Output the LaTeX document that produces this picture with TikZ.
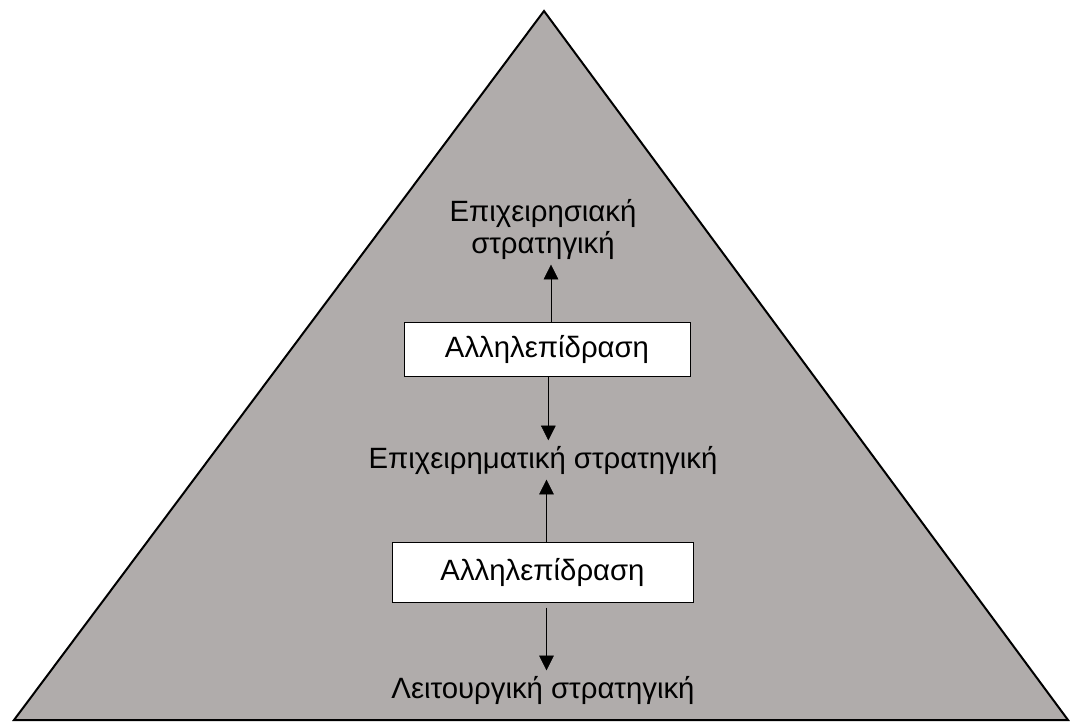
\documentclass[tikz,border=0pt]{standalone}
\usepackage{fontspec}
\setmainfont{Liberation Sans}
\usetikzlibrary{arrows.meta}
\definecolor{pyrgray}{RGB}{176,172,171}

\begin{document}
\begin{tikzpicture}[x=0.75pt,y=-0.75pt,
    txt/.style={font=\fontsize{22}{24}\selectfont, align=center, inner sep=4pt},
    inter/.style={draw, thin, fill=white, font=\fontsize{22}{24}\selectfont, inner sep=0pt},
    arr/.style={-{Triangle[length=11pt,width=11pt]}, thin}]
\useasboundingbox (0,0) rectangle (1070,724);
       \coordinate (apex) at (544,11);
       \coordinate (base right) at (1068,720);
       \coordinate (base left) at (14,720);
          \fill [pyrgray,draw=black,line width=1.5pt,line join=miter] (apex) -- (base right) -- (base left) -- cycle;
%
             \node [txt] at (543,229) (corp) {Επιχειρησιακή\\στρατηγική};
              \node [inter, minimum width=214.5pt, minimum height=40.5pt] at (547,349) (inter a) {Αλληλεπίδραση};
               \node [txt] at (543,460) (bus) {Επιχειρηματική στρατηγική};
                \node [inter, minimum width=225.75pt, minimum height=45pt] at (542.5,572) (inter b) {Αλληλεπίδραση};
                 \node [txt] at (543,690) (func) {Λειτουργική στρατηγική};
%
%
\draw[arr] ([xshift=3pt]inter a.north) -- ([xshift=3pt]inter a.north |- corp.south);
\draw[arr] ([xshift=1pt]inter a.south) -- ([xshift=1pt]inter a.south |- bus.north);
\draw[arr] ([xshift=3pt]inter b.north) -- ([xshift=3pt]inter b.north |- bus.south);
\draw[arr] ([xshift=3pt,yshift=-4pt]inter b.south) -- ([xshift=3pt]inter b.south |- func.north);

\end{tikzpicture}
\end{document}
